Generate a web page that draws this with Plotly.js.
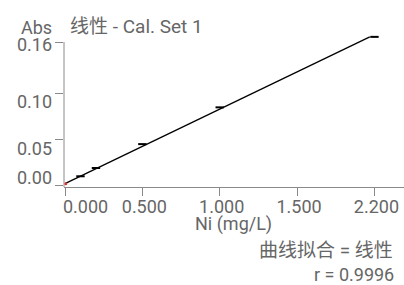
<!DOCTYPE html>
<html>
<head>
<meta charset="utf-8">
<script src="https://cdn.plot.ly/plotly-3.0.1.min.js"></script>
<style>html,body{margin:0;padding:0;background:#fff;}#chart{width:404px;height:285px;}</style>
</head>
<body>
<div id="chart"></div>
<script>
// Calibration standards (Ni concentration mg/L, absorbance)
const stdConc = [0.1, 0.2, 0.5, 1.0, 2.0];
const stdAbs = [0.0095, 0.0185, 0.0445, 0.0845, 0.1612];
// Linear fit line end points
const fitConc = [0.0, 1.97];
const fitAbs = [0.0015, 0.1612];
// Blank point
const blankConc = [0.005];
const blankAbs = [0.0015];
// Tick values / labels
const xTickVals = [0, 0.5, 1.0, 1.5, 2.0];
const xTickText = ['0.000', '0.500', '1.000', '1.500', '2.200'];
const yTickVals = [0, 0.05, 0.10, 0.1556];
const yTickText = ['0.00', '0.05', '0.10', '0.16'];
const yAxisTop = 0.1556;

const FONT = 'Roboto, "Noto Sans CJK SC", sans-serif';
const GRAY = '#666666';
const AXC = '#8a8a8a';

const traces = [
  {x: fitConc, y: fitAbs, mode: 'lines', line: {color: '#000', width: 1.3}, hoverinfo: 'skip', showlegend: false},
  {x: stdConc, y: stdAbs, mode: 'markers', marker: {symbol: 'line-ew', size: 6, line: {color: '#000', width: 2}}, showlegend: false, cliponaxis: false},
  {x: blankConc, y: blankAbs, mode: 'markers', marker: {symbol: 'circle', size: 3, color: '#e03030'}, showlegend: false, cliponaxis: false}
];

const L = 64, T = 36, W = 340, H = 151.5;
const px = v => (v - L) / W;
const py = v => (T + H - v) / H;
const txt = (size) => ({family: FONT, size: size, color: GRAY});

// vertical pixel offsets of the y tick labels relative to their ticks (as drawn in the reference)
const yLabelOffset = [-7.7, 9, 8.4, 2.2];

const annotations = [
  {text: 'Abs', xref: 'paper', yref: 'paper', x: px(19), y: py(27), xanchor: 'left', yanchor: 'middle', showarrow: false, font: txt(18)},
  {text: xTickText[0], xref: 'paper', yref: 'paper', x: px(61), y: py(207), xanchor: 'left', yanchor: 'middle', showarrow: false, font: txt(18)},
  {text: 'Ni (mg/L)', xref: 'paper', yref: 'paper', x: px(233), y: py(224.5), xanchor: 'center', yanchor: 'middle', showarrow: false, font: txt(18)},
  {text: '曲线拟合 = 线性', xref: 'paper', yref: 'paper', x: px(395), y: py(251), xanchor: 'right', yanchor: 'middle', showarrow: false, font: txt(19)},
  {text: 'r = 0.9996', xref: 'paper', yref: 'paper', x: px(395), y: py(275.5), xanchor: 'right', yanchor: 'middle', showarrow: false, font: txt(18), borderpad: 0}
];
yTickVals.forEach((v, i) => {
  annotations.push({text: yTickText[i], xref: 'paper', yref: 'y', x: px(54), y: v, yshift: -yLabelOffset[i],
    xanchor: 'right', yanchor: 'middle', showarrow: false, font: txt(18)});
});

const layout = {
  width: 404, height: 285,
  margin: {l: L, r: 0, t: T, b: 285 - T - H, pad: 0},
  paper_bgcolor: '#fff', plot_bgcolor: '#fff',
  font: txt(18),
  showlegend: false,
  xaxis: {
    range: [-0.0065, 2.191],
    tickmode: 'array', tickvals: xTickVals,
    ticktext: [''].concat(xTickText.slice(1)),
    ticks: 'outside', ticklen: 8, tickcolor: AXC, tickwidth: 1,
    showline: true, linecolor: AXC, linewidth: 1,
    showgrid: false, zeroline: false,
    tickfont: txt(18),
    ticklabelshift: 2,
    ticklabelstandoff: -5,
    title: {text: ''}
  },
  yaxis: {
    range: [-0.00217, 0.16215],
    tickmode: 'array', tickvals: yTickVals, ticktext: yTickText,
    showticklabels: false,
    ticks: 'outside', ticklen: 8, tickcolor: AXC, tickwidth: 1,
    showline: false, showgrid: false, zeroline: false,
    title: {text: ''}
  },
  shapes: [
    {type: 'line', xref: 'paper', yref: 'y', x0: 0, x1: 0, y0: -0.00217, y1: yAxisTop, line: {color: AXC, width: 1}}
  ],
  title: {
    text: '线性 - Cal. Set 1',
    font: txt(19),
    x: 70 / 404, xanchor: 'left', xref: 'container',
    y: 1 - 26.5 / 285, yanchor: 'middle', yref: 'container'
  },
  annotations: annotations
};

Plotly.newPlot('chart', traces, layout, {staticPlot: true, displayModeBar: false});
</script>
</body>
</html>
